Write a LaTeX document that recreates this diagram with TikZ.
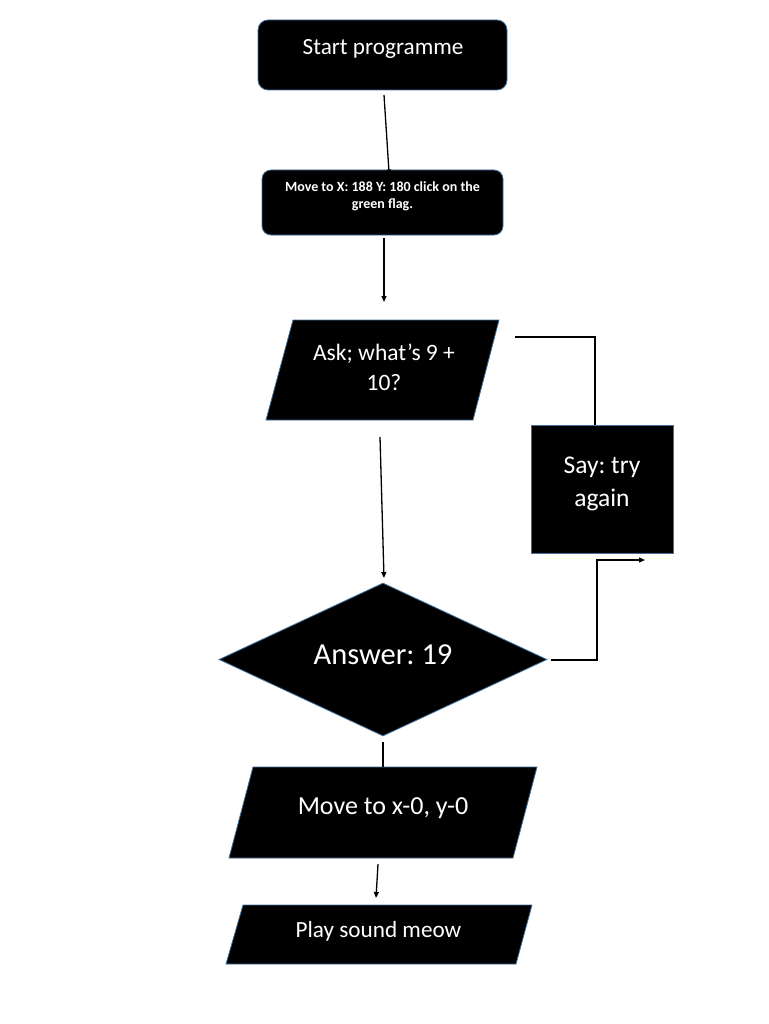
\documentclass[tikz,border=0pt]{standalone}
\usepackage{fontspec}
\setmainfont{Carlito}
\usetikzlibrary{arrows.meta,shapes.geometric}
\definecolor{bordc}{RGB}{65,113,156}
\frenchspacing
\begin{document}
\frenchspacing
\begin{tikzpicture}[x=1pt,y=-1pt,
 shapebox/.style={fill=black,draw=bordc,line width=0.8pt,inner sep=0pt},
 txt/.style={text=white,align=center,inner sep=0pt},
 conn/.style={line width=1.3pt,black},
 arr/.style={conn,-{Triangle[length=6pt,width=5pt]}},
 smallarr/.style={conn,-{Triangle[length=2.5pt,width=4.5pt]}}]
\useasboundingbox[fill=white] (0,0) rectangle (768,1024);

% Start
\node[shapebox,rounded corners=10pt,minimum width=249pt,minimum height=70pt] (start) at (382.5,55) {};
\node[txt,font=\fontsize{23.2}{27}\selectfont] (starttxt) at (383,49) {Start programme};

% Move to X box
\node[shapebox,rounded corners=9pt,minimum width=241pt,minimum height=65pt] (movebox) at (382.5,202.5) {};
\node[txt,font=\bfseries\fontsize{14}{17}\selectfont] (movetxt) at (382.5,196.5) {Move to X: 188 Y: 180 click on the\\green flag.};

% Ask parallelogram
\fill[black,draw=bordc,line width=0.8pt] (293,320) -- (499,320) -- (473,420) -- (266,420) -- cycle;
\node[txt,font=\fontsize{23.5}{30}\selectfont] (ask) at (384,367) {Ask; what’s 9 +\\10?};

% Say box
\node[shapebox,minimum width=142pt,minimum height=128pt] (say) at (602,489) {};
\node[txt,font=\fontsize{25.5}{33}\selectfont] (saytxt) at (602,483.5) {Say: try\\again};

% Diamond
\node[shapebox,diamond,minimum width=328pt,minimum height=153pt] (ans) at (383,659.5) {};
\node[txt,font=\fontsize{30.5}{34}\selectfont] (anstxt) at (383,655) {Answer: 19};

% Move to x-0 parallelogram
\fill[black,draw=bordc,line width=0.8pt] (253,767) -- (537,767) -- (513,858) -- (229,858) -- cycle;
\node[txt,font=\fontsize{26}{30}\selectfont] (movexy) at (383,808) {Move to x-0, y-0};

% Play sound parallelogram
\fill[black,draw=bordc,line width=0.8pt] (243,905) -- (532,905) -- (516,964) -- (226,964) -- cycle;
\node[txt,font=\fontsize{23.2}{28}\selectfont] (play) at (378.5,931) {Play sound meow};

% connector coordinates
\coordinate (c1a) at (384,95);
\coordinate (c1b) at (389,172);
\coordinate (c2a) at (384,238);
\coordinate (c2b) at (384,302);
\coordinate (c3a) at (515,337);
\coordinate (c3b) at (595,337);
\coordinate (c3c) at (595,425);
\coordinate (c4a) at (380,437);
\coordinate (c4b) at (384,578);
\coordinate (c5a) at (551,660);
\coordinate (c5b) at (597,660);
\coordinate (c5c) at (597,560);
\coordinate (c5d) at (645,560);
\coordinate (c6a) at (383,742);
\coordinate (c6b) at (383,767);
\coordinate (c7a) at (378,864);
\coordinate (c7b) at (376,898);

\draw[smallarr] (c1a) -- (c1b);
\draw[arr] (c2a) -- (c2b);
\draw[conn] (c3a) -- (c3b) -- (c3c);
\draw[arr] (c4a) -- (c4b);
\draw[arr] (c5a) -- (c5b) -- (c5c) -- (c5d);
\draw[conn] (c6a) -- (c6b);
\draw[arr] (c7a) -- (c7b);
\end{tikzpicture}
\end{document}
